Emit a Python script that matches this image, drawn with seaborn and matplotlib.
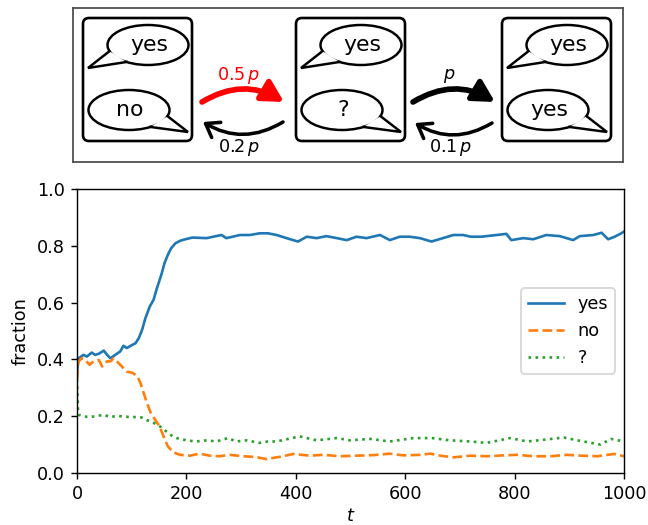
import matplotlib
matplotlib.use("Agg")
import matplotlib.pyplot as plt
import seaborn as sns
from matplotlib.patches import Ellipse, FancyBboxPatch, FancyArrowPatch, Polygon
import numpy as np

# dados
t_yes = [0, 2, 3, 12, 18, 27, 33, 40, 49, 55, 61, 70, 79, 85, 91, 101, 107, 113, 119, 125,
         133, 140, 146, 154, 160, 166, 172, 180, 189, 198, 211, 237, 249, 264, 273, 298, 316, 334, 349, 365,
         383, 404, 420, 438, 456, 475, 493, 511, 529, 554, 572, 590, 608, 627, 648, 669, 688, 706, 720, 739,
         767, 785, 794, 816, 834, 858, 883, 907, 919, 944, 959, 971, 983, 995, 1000]
yes_vals = [0.34, 0.40, 0.404, 0.416, 0.41, 0.424, 0.416, 0.42, 0.431, 0.416,
            0.404, 0.416, 0.428, 0.448, 0.44, 0.451, 0.457, 0.475, 0.504, 0.545,
            0.586, 0.61, 0.65, 0.697, 0.739, 0.768, 0.791, 0.809, 0.818, 0.823,
            0.829, 0.827, 0.832, 0.838, 0.827, 0.838, 0.838, 0.844, 0.844, 0.838,
            0.827, 0.815, 0.832, 0.827, 0.834, 0.827, 0.82, 0.832, 0.827, 0.838,
            0.82, 0.832, 0.832, 0.827, 0.815, 0.827, 0.838, 0.838, 0.832, 0.832,
            0.838, 0.842, 0.82, 0.827, 0.823, 0.838, 0.834, 0.82, 0.834, 0.838,
            0.846, 0.823, 0.832, 0.844, 0.85]

t_no = [0, 2, 3, 9, 15, 23, 30, 40, 46, 55, 61, 67, 73, 82, 91, 101, 110, 116, 122, 128,
        135, 143, 151, 157, 166, 176, 188, 206, 224, 243, 261, 279, 304, 328, 346, 377, 395, 426, 450, 481,
        511, 542, 572, 597, 627, 646, 664, 688, 719, 749, 780, 804, 835, 866, 896, 921, 951, 982, 1000]
no_vals = [0.33, 0.38, 0.393, 0.404, 0.398, 0.381, 0.393, 0.398, 0.375, 0.393,
           0.393, 0.404, 0.393, 0.375, 0.357, 0.353, 0.342, 0.317, 0.281, 0.246,
           0.211, 0.187, 0.164, 0.135, 0.094, 0.073, 0.064, 0.061, 0.068, 0.061,
           0.059, 0.064, 0.059, 0.056, 0.049, 0.059, 0.067, 0.061, 0.064, 0.059,
           0.061, 0.063, 0.068, 0.062, 0.064, 0.068, 0.061, 0.055, 0.061, 0.059,
           0.062, 0.064, 0.059, 0.059, 0.064, 0.061, 0.059, 0.067, 0.059]

t_q = [0, 2, 3, 12, 24, 37, 49, 61, 73, 85, 97, 110, 119, 128, 137, 146, 155, 170, 182, 200,
       218, 237, 255, 276, 291, 310, 334, 349, 365, 407, 438, 475, 499, 536, 572, 615, 649, 682, 719, 749,
       792, 823, 853, 890, 915, 957, 976, 1000]
q_vals = [0.33, 0.21, 0.205, 0.199, 0.197, 0.201, 0.205, 0.197, 0.201, 0.199,
          0.197, 0.197, 0.195, 0.186, 0.18, 0.17, 0.16, 0.135, 0.123, 0.115,
          0.111, 0.115, 0.111, 0.123, 0.111, 0.115, 0.106, 0.111, 0.111, 0.129,
          0.115, 0.123, 0.115, 0.12, 0.111, 0.123, 0.123, 0.115, 0.111, 0.106,
          0.123, 0.111, 0.117, 0.125, 0.115, 0.10, 0.12, 0.111]

series_labels = ['yes', 'no', '?']
rate_labels = [r'$0.5\,p$', r'$0.2\,p$', r'$p$', r'$0.1\,p$']

plt.rcParams['font.family'] = ['DejaVu Sans']
plt.rcParams['mathtext.fontset'] = 'dejavusans'

dpi = 127
fig = plt.figure(figsize=(648 / dpi, 525 / dpi), dpi=dpi)

# painel de cima: diagrama (coordenadas em pixels)
ax_d = fig.add_axes([73 / 648, 1 - 162 / 525, 550 / 648, 154 / 525])
ax_d.set_xlim(73, 623)
ax_d.set_ylim(162, 8)
ax_d.set_xticks([])
ax_d.set_yticks([])
for s in ax_d.spines.values():
    s.set_color('0.3')
    s.set_linewidth(1.0)


def bubble(ax, cx, cy, text, side):
    w, h = 81, 40
    ax.add_patch(Ellipse((cx, cy), w, h, fc='white', ec='black', lw=1.4, zorder=2))
    if side == 'left':
        a1, a2 = np.deg2rad(162), np.deg2rad(122)
        tip = (cx - 60, cy + 23)
    else:
        a1, a2 = np.deg2rad(18), np.deg2rad(58)
        tip = (cx + 59, cy + 22)
    p1 = (cx + w / 2 * np.cos(a1), cy + h / 2 * np.sin(a1))
    p2 = (cx + w / 2 * np.cos(a2), cy + h / 2 * np.sin(a2))
    ax.add_patch(Polygon([p1, tip, p2], closed=True, fc='white', ec='none', zorder=3))
    ax.plot([p1[0], tip[0], p2[0]], [p1[1], tip[1], p2[1]], color='black', lw=1.4, zorder=4,
            solid_joinstyle='miter')
    ax.text(cx + 1, cy, text, ha='center', va='center', fontsize=12.5, zorder=5)


box_x = [83, 296, 502]
bottom_texts = ['no', '?', 'yes']
for bx, bt in zip(box_x, bottom_texts):
    ax_d.add_patch(FancyBboxPatch((bx, 18), 109, 123, boxstyle="round,pad=0,rounding_size=6",
                                  fc='white', ec='black', lw=1.5, zorder=1))
    bubble(ax_d, bx + 65, 45, 'yes', 'left')
    bubble(ax_d, bx + 46, 110, bt, 'right')


def arrow(ax, x0, x1, y, lw, color, style):
    ax.add_patch(FancyArrowPatch((x0, y), (x1, y), connectionstyle="arc3,rad=-0.3",
                                 arrowstyle=style, mutation_scale=1, lw=lw, color=color,
                                 shrinkA=0, shrinkB=0, zorder=3))


arrow(ax_d, 202, 284, 102, 3.2, 'red', '-|>,head_length=10,head_width=5.5')
arrow(ax_d, 283, 203, 122, 2.0, 'black', '->,head_length=7,head_width=5')
arrow(ax_d, 413, 495, 102, 3.2, 'black', '-|>,head_length=10,head_width=5.5')
arrow(ax_d, 492, 415, 123, 2.0, 'black', '->,head_length=7,head_width=5')
ax_d.text(239, 75, rate_labels[0], color='red', ha='center', va='center', fontsize=10)
ax_d.text(239, 148, rate_labels[1], color='black', ha='center', va='center', fontsize=10)
ax_d.text(449, 76, rate_labels[2], color='black', ha='center', va='center', fontsize=10)
ax_d.text(451, 148, rate_labels[3], color='black', ha='center', va='center', fontsize=10)

# painel de baixo: frações ao longo do tempo
ax = fig.add_axes([77 / 648, 1 - 473 / 525, 547 / 648, 284 / 525])
sns.lineplot(x=t_yes, y=yes_vals, ax=ax, color='#1f77b4', lw=1.5, label=series_labels[0])
sns.lineplot(x=t_no, y=no_vals, ax=ax, color='#ff7f0e', lw=1.5, linestyle='--', label=series_labels[1])
sns.lineplot(x=t_q, y=q_vals, ax=ax, color='#2ca02c', lw=1.5, linestyle=':', label=series_labels[2])
ax.set_xlim(0, 1000)
ax.set_ylim(0, 1)
ax.set_xticks([0, 200, 400, 600, 800, 1000])
ax.set_yticks([0, 0.2, 0.4, 0.6, 0.8, 1.0])
ax.set_xlabel('$t$', labelpad=2)
ax.set_ylabel('fraction')
ax.legend(loc='center right')

fig.savefig('out.png', dpi=dpi)
